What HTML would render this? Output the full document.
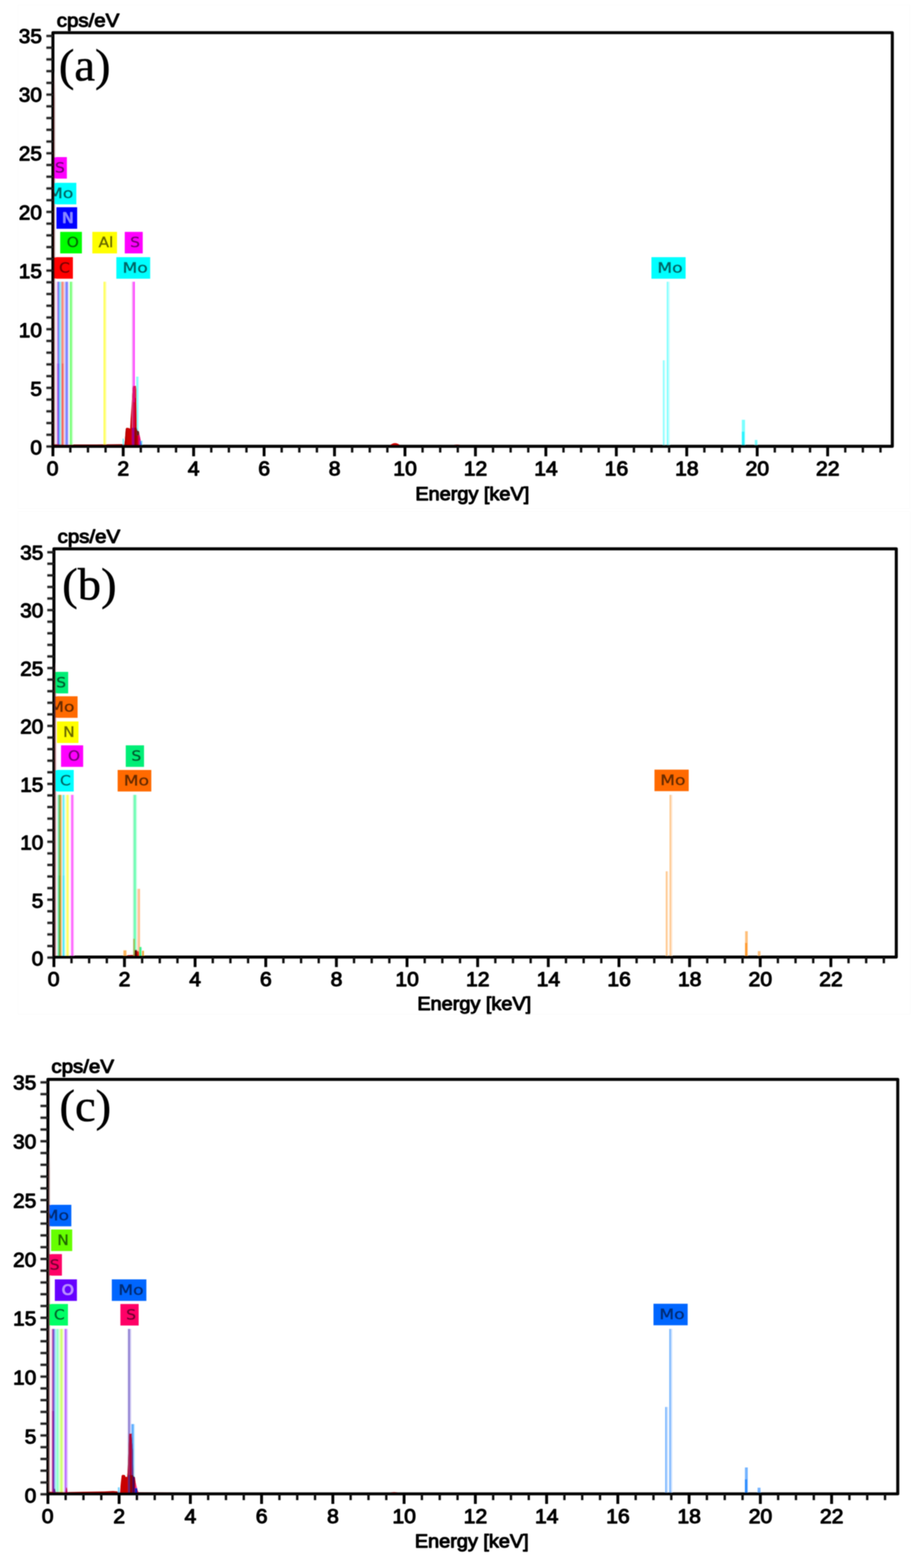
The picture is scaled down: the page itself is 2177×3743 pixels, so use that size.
<!DOCTYPE html>
<html lang="en"><head><meta charset="utf-8"><title>EDS spectra (a) (b) (c)</title>
<style>html,body{margin:0;padding:0;background:#fff;}body{width:2177px;height:3743px;}svg{display:block;}text{white-space:pre;}</style>
</head><body>
<svg width="2177" height="3743" viewBox="0 0 2177 3743" role="img" aria-label="EDS spectra of three samples">
<defs><filter id="soft" x="0" y="0" width="2177" height="3743" filterUnits="userSpaceOnUse"><feGaussianBlur stdDeviation="0.9"/></filter></defs>
<rect x="0" y="0" width="2177" height="3743" fill="#fff"/>
<g filter="url(#soft)">
<g id="panel-a">
<rect x="43" y="12" width="2129" height="1202" fill="none" stroke="#fcfcfc" stroke-width="2.4"/>
<clipPath id="clip-a"><rect x="126.3" y="78" width="2003.7" height="991.3"/></clipPath>
<g clip-path="url(#clip-a)">
<linearGradient id="zg-a" gradientUnits="userSpaceOnUse" x1="0" y1="169.9" x2="0" y2="239.9"><stop offset="0" stop-color="#3c0a0a" stop-opacity="0"/><stop offset="1" stop-color="#3c0a0a" stop-opacity="1"/></linearGradient>
<linearGradient id="zp-a" gradientUnits="userSpaceOnUse" x1="0" y1="169.9" x2="0" y2="239.9"><stop offset="0" stop-color="#eadada" stop-opacity="0"/><stop offset="1" stop-color="#eadada" stop-opacity="1"/></linearGradient>
<rect x="130.3" y="81.6" width="2.4" height="980.1" fill="url(#zp-a)"/>
<rect x="130" y="672.5" width="2.7" height="392.8" fill="#ecdcdc"/>
<rect x="134.9" y="672.5" width="2.5" height="392.8" fill="#f3b4f3"/>
<rect x="137.4" y="672.5" width="2.7" height="392.8" fill="#8a6ee6"/>
<rect x="140.1" y="672.5" width="2" height="392.8" fill="#549cff"/>
<rect x="142.1" y="672.5" width="2.9" height="392.8" fill="#82f0ff"/>
<rect x="145" y="672.5" width="2" height="392.8" fill="#bccac4"/>
<rect x="147" y="672.5" width="4.9" height="392.8" fill="#f98c7c"/>
<rect x="151.9" y="672.5" width="2.5" height="392.8" fill="#f9d2d2"/>
<rect x="154.4" y="672.5" width="2.6" height="392.8" fill="#b9b9ff"/>
<rect x="157" y="672.5" width="5" height="392.8" fill="#7a84ff"/>
<rect x="162" y="672.5" width="2" height="392.8" fill="#e2d2ff"/>
<rect x="164" y="672.5" width="2.9" height="392.8" fill="#e9ffe9"/>
<rect x="166.9" y="672.5" width="4.5" height="392.8" fill="#70ff70"/>
<rect x="171.4" y="672.5" width="2.6" height="392.8" fill="#c2ffc2"/>
<rect x="134.9" y="867.7" width="2.5" height="197.6" fill="#e898e8"/>
<rect x="137.4" y="867.7" width="2.7" height="197.6" fill="#8650e0"/>
<rect x="140.1" y="867.7" width="2" height="197.6" fill="#5080ff"/>
<rect x="147" y="867.7" width="4.9" height="197.6" fill="#f36a5e"/>
<rect x="1591.6" y="672.5" width="3.5" height="392.8" fill="#7cffff"/>
<rect x="1595.1" y="672.5" width="3.5" height="392.8" fill="#c4ffff"/>
<rect x="1582.4" y="860.1" width="3" height="205.2" fill="#7cffff"/>
<rect x="1585.4" y="860.1" width="2.5" height="205.2" fill="#c4ffff"/>
<rect x="1770.8" y="1002.1" width="7.6" height="63.2" fill="#7cffff"/>
<rect x="1770.8" y="1030.3" width="6.1" height="35" fill="#2cf4ff"/>
<rect x="1801.8" y="1050.2" width="6.2" height="15.1" fill="#7cffff"/>
<rect x="247.2" y="672.5" width="3.4" height="392.8" fill="#ffff4a"/>
<rect x="250.6" y="672.5" width="3" height="392.8" fill="#ffff90"/>
<rect x="315" y="672.5" width="2.7" height="392.8" fill="#f2a2f2"/>
<rect x="317.7" y="672.5" width="4.3" height="392.8" fill="#ff4cff"/>
<rect x="324.8" y="899" width="2" height="166.3" fill="#a4f2e4"/>
<rect x="326.8" y="899" width="3.3" height="166.3" fill="#7cffff"/>
<rect x="330.1" y="899" width="1.7" height="166.3" fill="#d2ffff"/>
<path d="M130 1065.3 L130 1060.3 L150 1061.1 L230 1060.9 L296 1060.3 L296 1065.3 Z" fill="#a80000"/>
<path d="M338 1065.3 L338 1061.7 L420 1062.3 L700 1062.8 L820 1063.7 L820 1065.3 Z" fill="#7a0000"/>
<clipPath id="pk-a"><path d="M295 1065.3 L296.6 1060.9 L298.2 1050 L300.2 1024 L302 1021.2 L307 1021.6 L310.6 1023.6 L311.8 1000 L313.6 975 L315.4 946 L316.6 926 L317.4 921.2 L324.8 921 L325.6 930 L326.2 975 L326.8 1022 L328 1027.5 L331.6 1029.5 L333 1038 L335.6 1050 L338.4 1061.9 L339.5 1065.3 Z"/></clipPath>
<path d="M295 1065.3 L296.6 1060.9 L298.2 1050 L300.2 1024 L302 1021.2 L307 1021.6 L310.6 1023.6 L311.8 1000 L313.6 975 L315.4 946 L316.6 926 L317.4 921.2 L324.8 921 L325.6 930 L326.2 975 L326.8 1022 L328 1027.5 L331.6 1029.5 L333 1038 L335.6 1050 L338.4 1061.9 L339.5 1065.3 Z" fill="#cc0000"/>
<g clip-path="url(#pk-a)">
<rect x="296" y="1015" width="7" height="50.3" fill="#b40000"/>
<rect x="315" y="915" width="2.6" height="106" fill="#d8467e"/>
<rect x="317.6" y="915" width="4.4" height="45" fill="#e4007e"/>
<rect x="317.6" y="960" width="4.4" height="61" fill="#d4004e"/>
<rect x="322" y="915" width="3" height="35" fill="#d42a3a"/>
<rect x="315.2" y="1021" width="5" height="44.3" fill="#a0008c"/>
<rect x="320.2" y="1021" width="6.4" height="44.3" fill="#9a0000"/>
<rect x="326.6" y="1020" width="5.2" height="20" fill="#5e2222"/>
<rect x="330.4" y="1038" width="5" height="27.3" fill="#e2007c"/>
<rect x="333.8" y="1051.6" width="3.6" height="13.7" fill="#3254f4"/>
</g>
<rect x="337.2" y="1052" width="2.6" height="13.3" fill="#4ad8f4" opacity="0.8"/>
<rect x="292.8" y="1047" width="3" height="18.3" fill="#58ecf4" opacity="0.85"/>
<path d="M930 1063.5 Q943 1051.9 956 1063.5 Z" fill="#d80000"/>
<path d="M1078 1063.7 Q1091 1058.9 1104 1063.7 Z" fill="#a00000"/>
<rect x="115.7" y="375" width="43.9" height="51.4" fill="#ff00ff"/>
<text x="0" y="0" font-family="'DejaVu Sans', 'Liberation Sans', sans-serif" font-size="34" font-weight="normal" text-anchor="middle" fill="#7c007c" transform="translate(143 411.8) scale(1.080 1)" stroke="#7c007c" stroke-width="1.2" stroke-linejoin="round">S</text>
<rect x="103.7" y="436.4" width="78.5" height="51.4" fill="#00ffff"/>
<text x="0" y="0" font-family="'DejaVu Sans', 'Liberation Sans', sans-serif" font-size="34" font-weight="normal" text-anchor="middle" fill="#006b6b" transform="translate(144.9 473.2) scale(1.200 1)" stroke="#006b6b" stroke-width="1.2" stroke-linejoin="round">Mo</text>
<rect x="134.5" y="494.7" width="49.7" height="51.4" fill="#0000ff"/>
<text x="0" y="0" font-family="'DejaVu Sans', 'Liberation Sans', sans-serif" font-size="34" font-weight="normal" text-anchor="middle" fill="#8a8aff" transform="translate(161.9 531.5) scale(1.080 1)" stroke="#8a8aff" stroke-width="1.2" stroke-linejoin="round">N</text>
<rect x="143.7" y="553.5" width="51.8" height="51.4" fill="#00ff00"/>
<text x="0" y="0" font-family="'DejaVu Sans', 'Liberation Sans', sans-serif" font-size="34" font-weight="normal" text-anchor="middle" fill="#007000" transform="translate(173.6 590.3) scale(1.080 1)" stroke="#007000" stroke-width="1.2" stroke-linejoin="round">O</text>
<rect x="220.4" y="553.5" width="58.9" height="51.4" fill="#ffff00"/>
<text x="0" y="0" font-family="'DejaVu Sans', 'Liberation Sans', sans-serif" font-size="34" font-weight="normal" text-anchor="middle" fill="#6b6b00" transform="translate(252.9 590.3) scale(1.080 1)" stroke="#6b6b00" stroke-width="1.2" stroke-linejoin="round">Al</text>
<rect x="297.8" y="553.5" width="42.9" height="51.4" fill="#ff00ff"/>
<text x="0" y="0" font-family="'DejaVu Sans', 'Liberation Sans', sans-serif" font-size="34" font-weight="normal" text-anchor="middle" fill="#7c007c" transform="translate(322.5 590.3) scale(1.080 1)" stroke="#7c007c" stroke-width="1.2" stroke-linejoin="round">S</text>
<rect x="125.7" y="613.9" width="48.3" height="51.4" fill="#ff0000"/>
<text x="0" y="0" font-family="'DejaVu Sans', 'Liberation Sans', sans-serif" font-size="34" font-weight="normal" text-anchor="middle" fill="#7c0000" transform="translate(153.7 650.7) scale(1.080 1)" stroke="#7c0000" stroke-width="1.2" stroke-linejoin="round">C</text>
<rect x="277.7" y="613.9" width="80.8" height="51.4" fill="#00ffff"/>
<text x="0" y="0" font-family="'DejaVu Sans', 'Liberation Sans', sans-serif" font-size="34" font-weight="normal" text-anchor="middle" fill="#006b6b" transform="translate(322.6 650.7) scale(1.200 1)" stroke="#006b6b" stroke-width="1.2" stroke-linejoin="round">Mo</text>
<rect x="1555" y="613.9" width="81.6" height="51.4" fill="#00ffff"/>
<text x="0" y="0" font-family="'DejaVu Sans', 'Liberation Sans', sans-serif" font-size="34" font-weight="normal" text-anchor="middle" fill="#006b6b" transform="translate(1599.4 650.7) scale(1.200 1)" stroke="#006b6b" stroke-width="1.2" stroke-linejoin="round">Mo</text>
</g>
<rect x="126.3" y="78" width="2003.7" height="987.3" fill="none" stroke="#000" stroke-width="7.2" stroke-linejoin="round"/>
<rect x="127.5" y="81.6" width="2.8" height="980.1" fill="url(#zg-a)"/>
<path d="M110.7 1065.9H126.3M110.7 1037.9H126.3M110.7 1009.9H126.3M110.7 981.9H126.3M110.7 953.9H126.3M110.7 925.9H126.3M110.7 897.9H126.3M110.7 869.9H126.3M110.7 841.9H126.3M110.7 813.9H126.3M110.7 785.9H126.3M110.7 757.9H126.3M110.7 729.9H126.3M110.7 701.9H126.3M110.7 673.9H126.3M110.7 645.9H126.3M110.7 617.9H126.3M110.7 589.9H126.3M110.7 561.9H126.3M110.7 533.9H126.3M110.7 505.9H126.3M110.7 477.9H126.3M110.7 449.9H126.3M110.7 421.9H126.3M110.7 393.9H126.3M110.7 365.9H126.3M110.7 337.9H126.3M110.7 309.9H126.3M110.7 281.9H126.3M110.7 253.9H126.3M110.7 225.9H126.3M110.7 197.9H126.3M110.7 169.9H126.3M110.7 141.9H126.3M110.7 113.9H126.3M110.7 85.9H126.3" stroke="#000" stroke-opacity="0.3" stroke-width="7.6" fill="none"/>
<path d="M110.7 1065.9H126.3M110.7 1037.9H126.3M110.7 1009.9H126.3M110.7 981.9H126.3M110.7 953.9H126.3M110.7 925.9H126.3M110.7 897.9H126.3M110.7 869.9H126.3M110.7 841.9H126.3M110.7 813.9H126.3M110.7 785.9H126.3M110.7 757.9H126.3M110.7 729.9H126.3M110.7 701.9H126.3M110.7 673.9H126.3M110.7 645.9H126.3M110.7 617.9H126.3M110.7 589.9H126.3M110.7 561.9H126.3M110.7 533.9H126.3M110.7 505.9H126.3M110.7 477.9H126.3M110.7 449.9H126.3M110.7 421.9H126.3M110.7 393.9H126.3M110.7 365.9H126.3M110.7 337.9H126.3M110.7 309.9H126.3M110.7 281.9H126.3M110.7 253.9H126.3M110.7 225.9H126.3M110.7 197.9H126.3M110.7 169.9H126.3M110.7 141.9H126.3M110.7 113.9H126.3M110.7 85.9H126.3" stroke="#1c1c1c" stroke-width="4.4" fill="none"/>
<path d="M167.9 1065.3V1080.3M210 1065.3V1080.3M252 1065.3V1080.3M336.1 1065.3V1080.3M378.1 1065.3V1080.3M420.2 1065.3V1080.3M504.3 1065.3V1080.3M546.3 1065.3V1080.3M588.3 1065.3V1080.3M672.4 1065.3V1080.3M714.5 1065.3V1080.3M756.5 1065.3V1080.3M840.6 1065.3V1080.3M882.6 1065.3V1080.3M924.7 1065.3V1080.3M1008.7 1065.3V1080.3M1050.8 1065.3V1080.3M1092.8 1065.3V1080.3M1176.9 1065.3V1080.3M1218.9 1065.3V1080.3M1261 1065.3V1080.3M1345.1 1065.3V1080.3M1387.1 1065.3V1080.3M1429.1 1065.3V1080.3M1513.2 1065.3V1080.3M1555.3 1065.3V1080.3M1597.3 1065.3V1080.3M1681.4 1065.3V1080.3M1723.4 1065.3V1080.3M1765.5 1065.3V1080.3M1849.5 1065.3V1080.3M1891.6 1065.3V1080.3M1933.6 1065.3V1080.3M2017.7 1065.3V1080.3M2059.7 1065.3V1080.3M2101.8 1065.3V1080.3" stroke="#111" stroke-width="5.6" fill="none"/>
<path d="M126.3 1065.3V1089.3M294.1 1065.3V1089.3M462.2 1065.3V1089.3M630.4 1065.3V1089.3M798.5 1065.3V1089.3M966.7 1065.3V1089.3M1134.9 1065.3V1089.3M1303 1065.3V1089.3M1471.2 1065.3V1089.3M1639.3 1065.3V1089.3M1807.5 1065.3V1089.3M1975.7 1065.3V1089.3" stroke="#000" stroke-width="6.8" fill="none"/>
<text x="0" y="0" font-family="'Liberation Sans', Arial, sans-serif" font-size="47.6" font-weight="normal" text-anchor="end" fill="#000" transform="translate(99.9 1085.2) scale(1.040 1)" stroke="#000" stroke-width="2.3" stroke-linejoin="round">0</text>
<text x="0" y="0" font-family="'Liberation Sans', Arial, sans-serif" font-size="47.6" font-weight="normal" text-anchor="end" fill="#000" transform="translate(99.9 944.8) scale(1.040 1)" stroke="#000" stroke-width="2.3" stroke-linejoin="round">5</text>
<text x="0" y="0" font-family="'Liberation Sans', Arial, sans-serif" font-size="47.6" font-weight="normal" text-anchor="end" fill="#000" transform="translate(99.9 804.5) scale(1.040 1)" stroke="#000" stroke-width="2.3" stroke-linejoin="round">10</text>
<text x="0" y="0" font-family="'Liberation Sans', Arial, sans-serif" font-size="47.6" font-weight="normal" text-anchor="end" fill="#000" transform="translate(99.9 664.1) scale(1.040 1)" stroke="#000" stroke-width="2.3" stroke-linejoin="round">15</text>
<text x="0" y="0" font-family="'Liberation Sans', Arial, sans-serif" font-size="47.6" font-weight="normal" text-anchor="end" fill="#000" transform="translate(99.9 523.8) scale(1.040 1)" stroke="#000" stroke-width="2.3" stroke-linejoin="round">20</text>
<text x="0" y="0" font-family="'Liberation Sans', Arial, sans-serif" font-size="47.6" font-weight="normal" text-anchor="end" fill="#000" transform="translate(99.9 383.4) scale(1.040 1)" stroke="#000" stroke-width="2.3" stroke-linejoin="round">25</text>
<text x="0" y="0" font-family="'Liberation Sans', Arial, sans-serif" font-size="47.6" font-weight="normal" text-anchor="end" fill="#000" transform="translate(99.9 243.1) scale(1.040 1)" stroke="#000" stroke-width="2.3" stroke-linejoin="round">30</text>
<text x="0" y="0" font-family="'Liberation Sans', Arial, sans-serif" font-size="47.6" font-weight="normal" text-anchor="end" fill="#000" transform="translate(99.9 102.7) scale(1.040 1)" stroke="#000" stroke-width="2.3" stroke-linejoin="round">35</text>
<text x="0" y="0" font-family="'Liberation Sans', Arial, sans-serif" font-size="47.6" font-weight="normal" text-anchor="middle" fill="#000" transform="translate(125.5 1135.3) scale(1.060 1)" stroke="#000" stroke-width="2.3" stroke-linejoin="round">0</text>
<text x="0" y="0" font-family="'Liberation Sans', Arial, sans-serif" font-size="47.6" font-weight="normal" text-anchor="middle" fill="#000" transform="translate(294.3 1135.3) scale(1.060 1)" stroke="#000" stroke-width="2.3" stroke-linejoin="round">2</text>
<text x="0" y="0" font-family="'Liberation Sans', Arial, sans-serif" font-size="47.6" font-weight="normal" text-anchor="middle" fill="#000" transform="translate(462.4 1135.3) scale(1.060 1)" stroke="#000" stroke-width="2.3" stroke-linejoin="round">4</text>
<text x="0" y="0" font-family="'Liberation Sans', Arial, sans-serif" font-size="47.6" font-weight="normal" text-anchor="middle" fill="#000" transform="translate(630.6 1135.3) scale(1.060 1)" stroke="#000" stroke-width="2.3" stroke-linejoin="round">6</text>
<text x="0" y="0" font-family="'Liberation Sans', Arial, sans-serif" font-size="47.6" font-weight="normal" text-anchor="middle" fill="#000" transform="translate(798.7 1135.3) scale(1.060 1)" stroke="#000" stroke-width="2.3" stroke-linejoin="round">8</text>
<text x="0" y="0" font-family="'Liberation Sans', Arial, sans-serif" font-size="47.6" font-weight="normal" text-anchor="middle" fill="#000" transform="translate(966.9 1135.3) scale(1.060 1)" stroke="#000" stroke-width="2.3" stroke-linejoin="round">10</text>
<text x="0" y="0" font-family="'Liberation Sans', Arial, sans-serif" font-size="47.6" font-weight="normal" text-anchor="middle" fill="#000" transform="translate(1135.1 1135.3) scale(1.060 1)" stroke="#000" stroke-width="2.3" stroke-linejoin="round">12</text>
<text x="0" y="0" font-family="'Liberation Sans', Arial, sans-serif" font-size="47.6" font-weight="normal" text-anchor="middle" fill="#000" transform="translate(1303.2 1135.3) scale(1.060 1)" stroke="#000" stroke-width="2.3" stroke-linejoin="round">14</text>
<text x="0" y="0" font-family="'Liberation Sans', Arial, sans-serif" font-size="47.6" font-weight="normal" text-anchor="middle" fill="#000" transform="translate(1471.4 1135.3) scale(1.060 1)" stroke="#000" stroke-width="2.3" stroke-linejoin="round">16</text>
<text x="0" y="0" font-family="'Liberation Sans', Arial, sans-serif" font-size="47.6" font-weight="normal" text-anchor="middle" fill="#000" transform="translate(1639.5 1135.3) scale(1.060 1)" stroke="#000" stroke-width="2.3" stroke-linejoin="round">18</text>
<text x="0" y="0" font-family="'Liberation Sans', Arial, sans-serif" font-size="47.6" font-weight="normal" text-anchor="middle" fill="#000" transform="translate(1807.7 1135.3) scale(1.060 1)" stroke="#000" stroke-width="2.3" stroke-linejoin="round">20</text>
<text x="0" y="0" font-family="'Liberation Sans', Arial, sans-serif" font-size="47.6" font-weight="normal" text-anchor="middle" fill="#000" transform="translate(1975.9 1135.3) scale(1.060 1)" stroke="#000" stroke-width="2.3" stroke-linejoin="round">22</text>
<text x="0" y="0" font-family="'Liberation Sans', Arial, sans-serif" font-size="44.4" font-weight="normal" text-anchor="middle" fill="#000" transform="translate(1127.4 1194.1) scale(1.070 1)" stroke="#000" stroke-width="2.3" stroke-linejoin="round">Energy [keV]</text>
<text x="0" y="0" font-family="'Liberation Sans', Arial, sans-serif" font-size="44.4" font-weight="normal" text-anchor="start" fill="#000" transform="translate(135.5 63.5) scale(1.100 1)" stroke="#000" stroke-width="2.3" stroke-linejoin="round">cps/eV</text>
<text x="0" y="0" font-family="'Liberation Serif', 'Times New Roman', serif" font-size="108" font-weight="normal" text-anchor="start" fill="#000" transform="translate(140.4 191.6) scale(1.030 1)" stroke="#000" stroke-width="1.1" stroke-linejoin="round">(a)</text>
</g>
<g id="panel-b">
<rect x="43" y="1221" width="2130" height="1200" fill="none" stroke="#fcfcfc" stroke-width="2.4"/>
<clipPath id="clip-b"><rect x="128.7" y="1310.2" width="2010.8" height="978.4"/></clipPath>
<g clip-path="url(#clip-b)">
<linearGradient id="zg-b" gradientUnits="userSpaceOnUse" x1="0" y1="1580.8" x2="0" y2="1636.1"><stop offset="0" stop-color="#5a3030" stop-opacity="0"/><stop offset="1" stop-color="#5a3030" stop-opacity="1"/></linearGradient>
<linearGradient id="zp-b" gradientUnits="userSpaceOnUse" x1="0" y1="1580.8" x2="0" y2="1636.1"><stop offset="0" stop-color="#f8d2da" stop-opacity="0"/><stop offset="1" stop-color="#f8d2da" stop-opacity="1"/></linearGradient>
<rect x="132.7" y="1313.8" width="2.4" height="967.2" fill="url(#zp-b)"/>
<rect x="132.5" y="1897.4" width="2.4" height="387.2" fill="#f9d4dc"/>
<rect x="137.2" y="1897.4" width="2.9" height="387.2" fill="#92f2c2"/>
<rect x="140.1" y="1897.4" width="2.2" height="387.2" fill="#54ba54"/>
<rect x="142.3" y="1897.4" width="2.7" height="387.2" fill="#a2a424"/>
<rect x="145" y="1897.4" width="2.2" height="387.2" fill="#f8b862"/>
<rect x="147.2" y="1897.4" width="2.1" height="387.2" fill="#f0e2d2"/>
<rect x="149.3" y="1897.4" width="4.9" height="387.2" fill="#68f4fb"/>
<rect x="154.2" y="1897.4" width="2.6" height="387.2" fill="#dcffff"/>
<rect x="156.8" y="1897.4" width="2.5" height="387.2" fill="#ffffa4"/>
<rect x="159.3" y="1897.4" width="4.7" height="387.2" fill="#ffff5c"/>
<rect x="164" y="1897.4" width="2.7" height="387.2" fill="#ffffe2"/>
<rect x="168.9" y="1897.4" width="2.3" height="387.2" fill="#ff94ff"/>
<rect x="171.2" y="1897.4" width="2.8" height="387.2" fill="#ff50ff"/>
<rect x="174" y="1897.4" width="2.3" height="387.2" fill="#ffa4ff"/>
<rect x="137.2" y="2090.1" width="2.9" height="194.5" fill="#8af0bc"/>
<rect x="140.1" y="2090.1" width="2.2" height="194.5" fill="#48b648"/>
<rect x="142.3" y="2090.1" width="2.7" height="194.5" fill="#96a020"/>
<rect x="149.3" y="2090.1" width="4.9" height="194.5" fill="#52eefa"/>
<rect x="1598.4" y="1897.4" width="3.1" height="387.2" fill="#ffc07c"/>
<rect x="1601.5" y="1897.4" width="3.1" height="387.2" fill="#ffe2c4"/>
<rect x="1589.4" y="2079.9" width="3.1" height="204.7" fill="#ffc07c"/>
<rect x="1592.5" y="2079.9" width="2.5" height="204.7" fill="#ffe2c4"/>
<rect x="1778.6" y="2222.9" width="6.4" height="61.7" fill="#ffc07c"/>
<rect x="1778.6" y="2250.8" width="4.9" height="33.8" fill="#ff9a2c"/>
<rect x="1808.9" y="2270.4" width="6.5" height="14.2" fill="#ffc07c"/>
<rect x="317.5" y="1897.4" width="2.5" height="387.2" fill="#aef2d0"/>
<rect x="320" y="1897.4" width="4.6" height="387.2" fill="#66ffb2"/>
<rect x="324.6" y="1897.4" width="2.3" height="387.2" fill="#c2ffe2"/>
<rect x="327.3" y="2121.7" width="2.5" height="162.9" fill="#ffd2c2"/>
<rect x="329.8" y="2121.7" width="4.5" height="162.9" fill="#ffc08e"/>
<path d="M304 2284.6 L304 2280.2 L319 2279.6 L319 2284.6 Z" fill="#c01000"/>
<path d="M320.5 2284.6 L321.2 2269 L323 2267.4 L326.8 2267.6 L327.6 2284.6 Z" fill="#520400"/>
<path d="M327.2 2284.6 L327.4 2270 L329 2269.6 L331.4 2272 L332.6 2284.6 Z" fill="#e40000"/>
<path d="M340 2284.6 L340 2281.8 L520 2283 L520 2284.6 Z" fill="#300000" opacity="0.5"/>
<rect x="317.9" y="2240.8" width="4.1" height="43.8" fill="#b09000" opacity="0.55"/>
<rect x="332.4" y="2260.4" width="5.2" height="24.2" fill="#20f070" opacity="0.85"/>
<rect x="337.6" y="2262" width="1.4" height="22.6" fill="#60f0ff" opacity="0.5"/>
<rect x="338.8" y="2269.6" width="4.8" height="15" fill="#f0a020" opacity="0.9"/>
<rect x="294.6" y="2268.6" width="7.2" height="16" fill="#ffa840" opacity="0.85"/>
<rect x="117.7" y="1603.8" width="45" height="51.4" fill="#00ee76"/>
<text x="0" y="0" font-family="'DejaVu Sans', 'Liberation Sans', sans-serif" font-size="34" font-weight="normal" text-anchor="middle" fill="#006030" transform="translate(146 1640.6) scale(1.080 1)" stroke="#006030" stroke-width="1.2" stroke-linejoin="round">S</text>
<rect x="103.7" y="1662.1" width="81.5" height="51.4" fill="#ff6a00"/>
<text x="0" y="0" font-family="'DejaVu Sans', 'Liberation Sans', sans-serif" font-size="34" font-weight="normal" text-anchor="middle" fill="#6b2d00" transform="translate(147.6 1698.9) scale(1.200 1)" stroke="#6b2d00" stroke-width="1.2" stroke-linejoin="round">Mo</text>
<rect x="135.5" y="1722.2" width="51.8" height="51.4" fill="#ffff00"/>
<text x="0" y="0" font-family="'DejaVu Sans', 'Liberation Sans', sans-serif" font-size="34" font-weight="normal" text-anchor="middle" fill="#6b6b00" transform="translate(164.5 1759) scale(1.080 1)" stroke="#6b6b00" stroke-width="1.2" stroke-linejoin="round">N</text>
<rect x="145.7" y="1779.2" width="52.8" height="51.4" fill="#ff00ff"/>
<text x="0" y="0" font-family="'DejaVu Sans', 'Liberation Sans', sans-serif" font-size="34" font-weight="normal" text-anchor="middle" fill="#7c007c" transform="translate(176.6 1816) scale(1.080 1)" stroke="#7c007c" stroke-width="1.2" stroke-linejoin="round">O</text>
<rect x="300.2" y="1779.2" width="43.6" height="51.4" fill="#00ee76"/>
<text x="0" y="0" font-family="'DejaVu Sans', 'Liberation Sans', sans-serif" font-size="34" font-weight="normal" text-anchor="middle" fill="#006030" transform="translate(325.5 1816) scale(1.080 1)" stroke="#006030" stroke-width="1.2" stroke-linejoin="round">S</text>
<rect x="125.7" y="1838" width="50.3" height="51.4" fill="#00ffff"/>
<text x="0" y="0" font-family="'DejaVu Sans', 'Liberation Sans', sans-serif" font-size="34" font-weight="normal" text-anchor="middle" fill="#006b6b" transform="translate(156 1874.8) scale(1.080 1)" stroke="#006b6b" stroke-width="1.2" stroke-linejoin="round">C</text>
<rect x="280.8" y="1838" width="80.4" height="51.4" fill="#ff6a00"/>
<text x="0" y="0" font-family="'DejaVu Sans', 'Liberation Sans', sans-serif" font-size="34" font-weight="normal" text-anchor="middle" fill="#6b2d00" transform="translate(325.6 1874.8) scale(1.200 1)" stroke="#6b2d00" stroke-width="1.2" stroke-linejoin="round">Mo</text>
<rect x="1562.3" y="1837.2" width="81.7" height="51.4" fill="#ff6a00"/>
<text x="0" y="0" font-family="'DejaVu Sans', 'Liberation Sans', sans-serif" font-size="34" font-weight="normal" text-anchor="middle" fill="#6b2d00" transform="translate(1606.2 1874) scale(1.200 1)" stroke="#6b2d00" stroke-width="1.2" stroke-linejoin="round">Mo</text>
</g>
<rect x="128.7" y="1310.2" width="2010.8" height="974.4" fill="none" stroke="#000" stroke-width="7.2" stroke-linejoin="round"/>
<rect x="129.9" y="1313.8" width="2.8" height="967.2" fill="url(#zg-b)"/>
<path d="M112.9 2285.9H128.7M112.9 2258.2H128.7M112.9 2230.6H128.7M112.9 2203H128.7M112.9 2175.3H128.7M112.9 2147.7H128.7M112.9 2120H128.7M112.9 2092.3H128.7M112.9 2064.7H128.7M112.9 2037.1H128.7M112.9 2009.4H128.7M112.9 1981.8H128.7M112.9 1954.1H128.7M112.9 1926.5H128.7M112.9 1898.8H128.7M112.9 1871.2H128.7M112.9 1843.5H128.7M112.9 1815.9H128.7M112.9 1788.2H128.7M112.9 1760.6H128.7M112.9 1732.9H128.7M112.9 1705.2H128.7M112.9 1677.6H128.7M112.9 1650H128.7M112.9 1622.3H128.7M112.9 1594.7H128.7M112.9 1567H128.7M112.9 1539.4H128.7M112.9 1511.7H128.7M112.9 1484.1H128.7M112.9 1456.4H128.7M112.9 1428.8H128.7M112.9 1401.1H128.7M112.9 1373.5H128.7M112.9 1345.8H128.7M112.9 1318.2H128.7" stroke="#000" stroke-opacity="0.3" stroke-width="7.6" fill="none"/>
<path d="M112.9 2285.9H128.7M112.9 2258.2H128.7M112.9 2230.6H128.7M112.9 2203H128.7M112.9 2175.3H128.7M112.9 2147.7H128.7M112.9 2120H128.7M112.9 2092.3H128.7M112.9 2064.7H128.7M112.9 2037.1H128.7M112.9 2009.4H128.7M112.9 1981.8H128.7M112.9 1954.1H128.7M112.9 1926.5H128.7M112.9 1898.8H128.7M112.9 1871.2H128.7M112.9 1843.5H128.7M112.9 1815.9H128.7M112.9 1788.2H128.7M112.9 1760.6H128.7M112.9 1732.9H128.7M112.9 1705.2H128.7M112.9 1677.6H128.7M112.9 1650H128.7M112.9 1622.3H128.7M112.9 1594.7H128.7M112.9 1567H128.7M112.9 1539.4H128.7M112.9 1511.7H128.7M112.9 1484.1H128.7M112.9 1456.4H128.7M112.9 1428.8H128.7M112.9 1401.1H128.7M112.9 1373.5H128.7M112.9 1345.8H128.7M112.9 1318.2H128.7" stroke="#1c1c1c" stroke-width="4.4" fill="none"/>
<path d="M170.7 2284.6V2299.6M212.8 2284.6V2299.6M255 2284.6V2299.6M339.3 2284.6V2299.6M381.4 2284.6V2299.6M423.6 2284.6V2299.6M507.9 2284.6V2299.6M550 2284.6V2299.6M592.2 2284.6V2299.6M676.5 2284.6V2299.6M718.7 2284.6V2299.6M760.8 2284.6V2299.6M845.1 2284.6V2299.6M887.3 2284.6V2299.6M929.4 2284.6V2299.6M1013.8 2284.6V2299.6M1055.9 2284.6V2299.6M1098.1 2284.6V2299.6M1182.4 2284.6V2299.6M1224.5 2284.6V2299.6M1266.7 2284.6V2299.6M1351 2284.6V2299.6M1393.2 2284.6V2299.6M1435.3 2284.6V2299.6M1519.6 2284.6V2299.6M1561.8 2284.6V2299.6M1603.9 2284.6V2299.6M1688.2 2284.6V2299.6M1730.4 2284.6V2299.6M1772.5 2284.6V2299.6M1856.9 2284.6V2299.6M1899 2284.6V2299.6M1941.2 2284.6V2299.6M2025.5 2284.6V2299.6M2067.6 2284.6V2299.6M2109.8 2284.6V2299.6" stroke="#111" stroke-width="5.6" fill="none"/>
<path d="M128.7 2284.6V2308.6M297.1 2284.6V2308.6M465.7 2284.6V2308.6M634.4 2284.6V2308.6M803 2284.6V2308.6M971.6 2284.6V2308.6M1140.2 2284.6V2308.6M1308.8 2284.6V2308.6M1477.5 2284.6V2308.6M1646.1 2284.6V2308.6M1814.7 2284.6V2308.6M1983.3 2284.6V2308.6" stroke="#000" stroke-width="6.8" fill="none"/>
<text x="0" y="0" font-family="'Liberation Sans', Arial, sans-serif" font-size="47.6" font-weight="normal" text-anchor="end" fill="#000" transform="translate(103.3 2305.3) scale(1.040 1)" stroke="#000" stroke-width="2.3" stroke-linejoin="round">0</text>
<text x="0" y="0" font-family="'Liberation Sans', Arial, sans-serif" font-size="47.6" font-weight="normal" text-anchor="end" fill="#000" transform="translate(103.3 2166.8) scale(1.040 1)" stroke="#000" stroke-width="2.3" stroke-linejoin="round">5</text>
<text x="0" y="0" font-family="'Liberation Sans', Arial, sans-serif" font-size="47.6" font-weight="normal" text-anchor="end" fill="#000" transform="translate(103.3 2028.2) scale(1.040 1)" stroke="#000" stroke-width="2.3" stroke-linejoin="round">10</text>
<text x="0" y="0" font-family="'Liberation Sans', Arial, sans-serif" font-size="47.6" font-weight="normal" text-anchor="end" fill="#000" transform="translate(103.3 1889.7) scale(1.040 1)" stroke="#000" stroke-width="2.3" stroke-linejoin="round">15</text>
<text x="0" y="0" font-family="'Liberation Sans', Arial, sans-serif" font-size="47.6" font-weight="normal" text-anchor="end" fill="#000" transform="translate(103.3 1751.1) scale(1.040 1)" stroke="#000" stroke-width="2.3" stroke-linejoin="round">20</text>
<text x="0" y="0" font-family="'Liberation Sans', Arial, sans-serif" font-size="47.6" font-weight="normal" text-anchor="end" fill="#000" transform="translate(103.3 1612.6) scale(1.040 1)" stroke="#000" stroke-width="2.3" stroke-linejoin="round">25</text>
<text x="0" y="0" font-family="'Liberation Sans', Arial, sans-serif" font-size="47.6" font-weight="normal" text-anchor="end" fill="#000" transform="translate(103.3 1474) scale(1.040 1)" stroke="#000" stroke-width="2.3" stroke-linejoin="round">30</text>
<text x="0" y="0" font-family="'Liberation Sans', Arial, sans-serif" font-size="47.6" font-weight="normal" text-anchor="end" fill="#000" transform="translate(103.3 1335.5) scale(1.040 1)" stroke="#000" stroke-width="2.3" stroke-linejoin="round">35</text>
<text x="0" y="0" font-family="'Liberation Sans', Arial, sans-serif" font-size="47.6" font-weight="normal" text-anchor="middle" fill="#000" transform="translate(128.1 2353.7) scale(1.060 1)" stroke="#000" stroke-width="2.3" stroke-linejoin="round">0</text>
<text x="0" y="0" font-family="'Liberation Sans', Arial, sans-serif" font-size="47.6" font-weight="normal" text-anchor="middle" fill="#000" transform="translate(297.3 2353.7) scale(1.060 1)" stroke="#000" stroke-width="2.3" stroke-linejoin="round">2</text>
<text x="0" y="0" font-family="'Liberation Sans', Arial, sans-serif" font-size="47.6" font-weight="normal" text-anchor="middle" fill="#000" transform="translate(465.9 2353.7) scale(1.060 1)" stroke="#000" stroke-width="2.3" stroke-linejoin="round">4</text>
<text x="0" y="0" font-family="'Liberation Sans', Arial, sans-serif" font-size="47.6" font-weight="normal" text-anchor="middle" fill="#000" transform="translate(634.6 2353.7) scale(1.060 1)" stroke="#000" stroke-width="2.3" stroke-linejoin="round">6</text>
<text x="0" y="0" font-family="'Liberation Sans', Arial, sans-serif" font-size="47.6" font-weight="normal" text-anchor="middle" fill="#000" transform="translate(803.2 2353.7) scale(1.060 1)" stroke="#000" stroke-width="2.3" stroke-linejoin="round">8</text>
<text x="0" y="0" font-family="'Liberation Sans', Arial, sans-serif" font-size="47.6" font-weight="normal" text-anchor="middle" fill="#000" transform="translate(971.8 2353.7) scale(1.060 1)" stroke="#000" stroke-width="2.3" stroke-linejoin="round">10</text>
<text x="0" y="0" font-family="'Liberation Sans', Arial, sans-serif" font-size="47.6" font-weight="normal" text-anchor="middle" fill="#000" transform="translate(1140.4 2353.7) scale(1.060 1)" stroke="#000" stroke-width="2.3" stroke-linejoin="round">12</text>
<text x="0" y="0" font-family="'Liberation Sans', Arial, sans-serif" font-size="47.6" font-weight="normal" text-anchor="middle" fill="#000" transform="translate(1309 2353.7) scale(1.060 1)" stroke="#000" stroke-width="2.3" stroke-linejoin="round">14</text>
<text x="0" y="0" font-family="'Liberation Sans', Arial, sans-serif" font-size="47.6" font-weight="normal" text-anchor="middle" fill="#000" transform="translate(1477.7 2353.7) scale(1.060 1)" stroke="#000" stroke-width="2.3" stroke-linejoin="round">16</text>
<text x="0" y="0" font-family="'Liberation Sans', Arial, sans-serif" font-size="47.6" font-weight="normal" text-anchor="middle" fill="#000" transform="translate(1646.3 2353.7) scale(1.060 1)" stroke="#000" stroke-width="2.3" stroke-linejoin="round">18</text>
<text x="0" y="0" font-family="'Liberation Sans', Arial, sans-serif" font-size="47.6" font-weight="normal" text-anchor="middle" fill="#000" transform="translate(1814.9 2353.7) scale(1.060 1)" stroke="#000" stroke-width="2.3" stroke-linejoin="round">20</text>
<text x="0" y="0" font-family="'Liberation Sans', Arial, sans-serif" font-size="47.6" font-weight="normal" text-anchor="middle" fill="#000" transform="translate(1983.5 2353.7) scale(1.060 1)" stroke="#000" stroke-width="2.3" stroke-linejoin="round">22</text>
<text x="0" y="0" font-family="'Liberation Sans', Arial, sans-serif" font-size="44.4" font-weight="normal" text-anchor="middle" fill="#000" transform="translate(1132.1 2411.4) scale(1.070 1)" stroke="#000" stroke-width="2.3" stroke-linejoin="round">Energy [keV]</text>
<text x="0" y="0" font-family="'Liberation Sans', Arial, sans-serif" font-size="44.4" font-weight="normal" text-anchor="start" fill="#000" transform="translate(137.5 1296.3) scale(1.100 1)" stroke="#000" stroke-width="2.3" stroke-linejoin="round">cps/eV</text>
<text x="0" y="0" font-family="'Liberation Serif', 'Times New Roman', serif" font-size="108" font-weight="normal" text-anchor="start" fill="#000" transform="translate(148.5 1431.1) scale(1.030 1)" stroke="#000" stroke-width="1.1" stroke-linejoin="round">(b)</text>
</g>
<g id="panel-c">
<clipPath id="clip-c"><rect x="114.4" y="2576.6" width="2028.6" height="993.4"/></clipPath>
<g clip-path="url(#clip-c)">
<linearGradient id="zg-c" gradientUnits="userSpaceOnUse" x1="0" y1="2738.3" x2="0" y2="2794.5"><stop offset="0" stop-color="#5e3e3e" stop-opacity="0"/><stop offset="1" stop-color="#5e3e3e" stop-opacity="1"/></linearGradient>
<linearGradient id="zp-c" gradientUnits="userSpaceOnUse" x1="0" y1="2738.3" x2="0" y2="2794.5"><stop offset="0" stop-color="#f4eaea" stop-opacity="0"/><stop offset="1" stop-color="#f4eaea" stop-opacity="1"/></linearGradient>
<rect x="118.4" y="2580.2" width="2.4" height="982.2" fill="url(#zp-c)"/>
<rect x="117.9" y="3172.3" width="2.2" height="393.7" fill="#f3e9e9"/>
<rect x="120.1" y="3172.3" width="2.9" height="393.7" fill="#fff2f9"/>
<rect x="123" y="3172.3" width="2.1" height="393.7" fill="#f092c2"/>
<rect x="125.1" y="3172.3" width="3.2" height="393.7" fill="#8240b8"/>
<rect x="128.3" y="3172.3" width="1.7" height="393.7" fill="#6452d2"/>
<rect x="130" y="3172.3" width="2.8" height="393.7" fill="#a2caff"/>
<rect x="132.8" y="3172.3" width="2.5" height="393.7" fill="#aafff2"/>
<rect x="135.3" y="3172.3" width="4.5" height="393.7" fill="#90ffc8"/>
<rect x="139.8" y="3172.3" width="2.4" height="393.7" fill="#d2ffea"/>
<rect x="142.2" y="3172.3" width="2.7" height="393.7" fill="#e2ffa2"/>
<rect x="144.9" y="3172.3" width="4.7" height="393.7" fill="#d0ff6e"/>
<rect x="149.6" y="3172.3" width="2.5" height="393.7" fill="#f2ffd2"/>
<rect x="152.1" y="3172.3" width="2" height="393.7" fill="#f9e2ff"/>
<rect x="154.1" y="3172.3" width="4.9" height="393.7" fill="#bc72ff"/>
<rect x="159" y="3172.3" width="2.9" height="393.7" fill="#e2c2ff"/>
<rect x="123" y="3368.1" width="2.1" height="197.9" fill="#e878b0"/>
<rect x="125.1" y="3368.1" width="3.2" height="197.9" fill="#8020a0"/>
<rect x="128.3" y="3368.1" width="1.7" height="197.9" fill="#7030c0"/>
<rect x="1597.6" y="3172.3" width="3.4" height="393.7" fill="#74b4ff"/>
<rect x="1601" y="3172.3" width="3.4" height="393.7" fill="#c0dcff"/>
<rect x="1587.8" y="3358.6" width="3.6" height="207.4" fill="#74b4ff"/>
<rect x="1591.4" y="3358.6" width="3" height="207.4" fill="#c0dcff"/>
<rect x="1778.2" y="3503" width="6.8" height="63" fill="#74b4ff"/>
<rect x="1778.2" y="3531.3" width="5.3" height="34.7" fill="#2c8cff"/>
<rect x="1808.4" y="3551.3" width="7" height="14.7" fill="#74b4ff"/>
<rect x="303.4" y="3172.3" width="2.3" height="393.7" fill="#ece8fa"/>
<rect x="305.7" y="3172.3" width="4.5" height="393.7" fill="#8e7ed2"/>
<rect x="310.2" y="3172.3" width="2.8" height="393.7" fill="#cac2f2"/>
<rect x="312.6" y="3399.4" width="2.1" height="166.6" fill="#a2d2ff"/>
<rect x="314.7" y="3399.4" width="4.5" height="166.6" fill="#52aaff"/>
<rect x="319.2" y="3399.4" width="2.4" height="166.6" fill="#b2e2ff"/>
<path d="M118 3566 L118 3560.4 L135 3561.2 L160 3561.8 L200 3561 L250 3560.2 L270 3559.2 L284 3560.6 L284 3566 Z" fill="#b00000"/>
<path d="M330 3566 L330 3562.2 L420 3562.8 L640 3564.2 L640 3566 Z" fill="#7a0000"/>
<clipPath id="pk-c"><path d="M285 3566 L286.4 3560.6 L288.4 3540 L290.4 3522.5 L292.6 3520.6 L298.2 3521.2 L299.6 3525.4 L303.4 3525.6 L304.6 3505 L305.8 3475 L307 3440 L308 3422.4 L314.6 3421.8 L315.4 3436 L317.4 3462 L318.2 3503 L318.8 3521 L319.4 3524.6 L322 3525.8 L323.8 3539.6 L327 3552 L330.2 3562.6 L331 3566 Z"/></clipPath>
<path d="M285 3566 L286.4 3560.6 L288.4 3540 L290.4 3522.5 L292.6 3520.6 L298.2 3521.2 L299.6 3525.4 L303.4 3525.6 L304.6 3505 L305.8 3475 L307 3440 L308 3422.4 L314.6 3421.8 L315.4 3436 L317.4 3462 L318.2 3503 L318.8 3521 L319.4 3524.6 L322 3525.8 L323.8 3539.6 L327 3552 L330.2 3562.6 L331 3566 Z" fill="#c80000"/>
<g clip-path="url(#pk-c)">
<rect x="305.6" y="3415" width="4.6" height="106" fill="#a6225e"/>
<rect x="310.2" y="3415" width="4.6" height="106" fill="#b00030"/>
<rect x="314.6" y="3415" width="3.8" height="109" fill="#5a3a9a"/>
<rect x="305.6" y="3521" width="4.6" height="45" fill="#62206e"/>
<rect x="310.2" y="3521" width="5.8" height="45" fill="#900000"/>
<rect x="316" y="3521" width="5.6" height="45" fill="#520050"/>
<rect x="323.4" y="3538" width="4.2" height="14" fill="#ff4090"/>
<rect x="322" y="3552" width="5.6" height="14" fill="#0024c4"/>
</g>
<rect x="281.2" y="3550.4" width="4.6" height="15.6" fill="#66ccff" opacity="0.85"/>
<path d="M155.5 3566 L157.6 3551 L159.8 3551 L162 3566 Z" fill="#c8005a"/>
<path d="M127 3566 L129 3553 L131.5 3554 L134 3566 Z" fill="#6a1a8a"/>
<path d="M928 3564.4 Q941 3559.2 954 3564.4 Z" fill="#c80000"/>
<rect x="103.7" y="2876" width="66.6" height="51.4" fill="#0066ff"/>
<text x="0" y="0" font-family="'DejaVu Sans', 'Liberation Sans', sans-serif" font-size="34" font-weight="normal" text-anchor="middle" fill="#002d78" transform="translate(134.6 2912.8) scale(1.200 1)" stroke="#002d78" stroke-width="1.2" stroke-linejoin="round">Mo</text>
<rect x="121.7" y="2935" width="50.7" height="51.4" fill="#66ff00"/>
<text x="0" y="0" font-family="'DejaVu Sans', 'Liberation Sans', sans-serif" font-size="34" font-weight="normal" text-anchor="middle" fill="#226b00" transform="translate(150.4 2971.8) scale(1.080 1)" stroke="#226b00" stroke-width="1.2" stroke-linejoin="round">N</text>
<rect x="103.7" y="2993.7" width="44.1" height="51.4" fill="#ff0066"/>
<text x="0" y="0" font-family="'DejaVu Sans', 'Liberation Sans', sans-serif" font-size="34" font-weight="normal" text-anchor="middle" fill="#780031" transform="translate(130.5 3030.5) scale(1.080 1)" stroke="#780031" stroke-width="1.2" stroke-linejoin="round">S</text>
<rect x="130.9" y="3054" width="52.7" height="51.4" fill="#6600ff"/>
<text x="0" y="0" font-family="'DejaVu Sans', 'Liberation Sans', sans-serif" font-size="34" font-weight="normal" text-anchor="middle" fill="#c090ff" transform="translate(162 3090.8) scale(1.080 1)" stroke="#c090ff" stroke-width="1.2" stroke-linejoin="round">O</text>
<rect x="266.9" y="3054" width="82.5" height="51.4" fill="#0066ff"/>
<text x="0" y="0" font-family="'DejaVu Sans', 'Liberation Sans', sans-serif" font-size="34" font-weight="normal" text-anchor="middle" fill="#002d78" transform="translate(312.6 3090.8) scale(1.200 1)" stroke="#002d78" stroke-width="1.2" stroke-linejoin="round">Mo</text>
<rect x="111.7" y="3112.8" width="50.5" height="51.4" fill="#00ff66"/>
<text x="0" y="0" font-family="'DejaVu Sans', 'Liberation Sans', sans-serif" font-size="34" font-weight="normal" text-anchor="middle" fill="#006b2d" transform="translate(141.5 3149.6) scale(1.080 1)" stroke="#006b2d" stroke-width="1.2" stroke-linejoin="round">C</text>
<rect x="287.4" y="3112.8" width="43.6" height="51.4" fill="#ff0066"/>
<text x="0" y="0" font-family="'DejaVu Sans', 'Liberation Sans', sans-serif" font-size="34" font-weight="normal" text-anchor="middle" fill="#780031" transform="translate(313 3149.6) scale(1.080 1)" stroke="#780031" stroke-width="1.2" stroke-linejoin="round">S</text>
<rect x="1559.9" y="3112.2" width="81.6" height="51.4" fill="#0066ff"/>
<text x="0" y="0" font-family="'DejaVu Sans', 'Liberation Sans', sans-serif" font-size="34" font-weight="normal" text-anchor="middle" fill="#002d78" transform="translate(1604.1 3149) scale(1.200 1)" stroke="#002d78" stroke-width="1.2" stroke-linejoin="round">Mo</text>
</g>
<rect x="114.4" y="2576.6" width="2028.6" height="989.4" fill="none" stroke="#000" stroke-width="7.2" stroke-linejoin="round"/>
<rect x="115.6" y="2580.2" width="2.8" height="982.2" fill="url(#zg-c)"/>
<path d="M96.6 3567H114.4M96.6 3538.9H114.4M96.6 3510.8H114.4M96.6 3482.7H114.4M96.6 3454.6H114.4M96.6 3426.6H114.4M96.6 3398.5H114.4M96.6 3370.4H114.4M96.6 3342.3H114.4M96.6 3314.2H114.4M96.6 3286.1H114.4M96.6 3258H114.4M96.6 3229.9H114.4M96.6 3201.8H114.4M96.6 3173.7H114.4M96.6 3145.7H114.4M96.6 3117.6H114.4M96.6 3089.5H114.4M96.6 3061.4H114.4M96.6 3033.3H114.4M96.6 3005.2H114.4M96.6 2977.1H114.4M96.6 2949H114.4M96.6 2920.9H114.4M96.6 2892.8H114.4M96.6 2864.8H114.4M96.6 2836.7H114.4M96.6 2808.6H114.4M96.6 2780.5H114.4M96.6 2752.4H114.4M96.6 2724.3H114.4M96.6 2696.2H114.4M96.6 2668.1H114.4M96.6 2640H114.4M96.6 2611.9H114.4M96.6 2583.8H114.4" stroke="#000" stroke-opacity="0.3" stroke-width="7.6" fill="none"/>
<path d="M96.6 3567H114.4M96.6 3538.9H114.4M96.6 3510.8H114.4M96.6 3482.7H114.4M96.6 3454.6H114.4M96.6 3426.6H114.4M96.6 3398.5H114.4M96.6 3370.4H114.4M96.6 3342.3H114.4M96.6 3314.2H114.4M96.6 3286.1H114.4M96.6 3258H114.4M96.6 3229.9H114.4M96.6 3201.8H114.4M96.6 3173.7H114.4M96.6 3145.7H114.4M96.6 3117.6H114.4M96.6 3089.5H114.4M96.6 3061.4H114.4M96.6 3033.3H114.4M96.6 3005.2H114.4M96.6 2977.1H114.4M96.6 2949H114.4M96.6 2920.9H114.4M96.6 2892.8H114.4M96.6 2864.8H114.4M96.6 2836.7H114.4M96.6 2808.6H114.4M96.6 2780.5H114.4M96.6 2752.4H114.4M96.6 2724.3H114.4M96.6 2696.2H114.4M96.6 2668.1H114.4M96.6 2640H114.4M96.6 2611.9H114.4M96.6 2583.8H114.4" stroke="#1c1c1c" stroke-width="4.4" fill="none"/>
<path d="M156.7 3566V3581M199.2 3566V3581M241.8 3566V3581M326.8 3566V3581M369.3 3566V3581M411.8 3566V3581M496.9 3566V3581M539.4 3566V3581M581.9 3566V3581M667 3566V3581M709.5 3566V3581M752 3566V3581M837 3566V3581M879.6 3566V3581M922.1 3566V3581M1007.1 3566V3581M1049.6 3566V3581M1092.2 3566V3581M1177.2 3566V3581M1219.7 3566V3581M1262.2 3566V3581M1347.3 3566V3581M1389.8 3566V3581M1432.3 3566V3581M1517.4 3566V3581M1559.9 3566V3581M1602.4 3566V3581M1687.4 3566V3581M1730 3566V3581M1772.5 3566V3581M1857.5 3566V3581M1900 3566V3581M1942.6 3566V3581M2027.6 3566V3581M2070.1 3566V3581M2112.6 3566V3581" stroke="#111" stroke-width="5.6" fill="none"/>
<path d="M114.4 3566V3590M284.3 3566V3590M454.4 3566V3590M624.4 3566V3590M794.5 3566V3590M964.6 3566V3590M1134.7 3566V3590M1304.8 3566V3590M1474.8 3566V3590M1644.9 3566V3590M1815 3566V3590M1985.1 3566V3590" stroke="#000" stroke-width="6.8" fill="none"/>
<text x="0" y="0" font-family="'Liberation Sans', Arial, sans-serif" font-size="47.6" font-weight="normal" text-anchor="end" fill="#000" transform="translate(86.4 3586.6) scale(1.040 1)" stroke="#000" stroke-width="2.3" stroke-linejoin="round">0</text>
<text x="0" y="0" font-family="'Liberation Sans', Arial, sans-serif" font-size="47.6" font-weight="normal" text-anchor="end" fill="#000" transform="translate(86.4 3445.9) scale(1.040 1)" stroke="#000" stroke-width="2.3" stroke-linejoin="round">5</text>
<text x="0" y="0" font-family="'Liberation Sans', Arial, sans-serif" font-size="47.6" font-weight="normal" text-anchor="end" fill="#000" transform="translate(86.4 3305.1) scale(1.040 1)" stroke="#000" stroke-width="2.3" stroke-linejoin="round">10</text>
<text x="0" y="0" font-family="'Liberation Sans', Arial, sans-serif" font-size="47.6" font-weight="normal" text-anchor="end" fill="#000" transform="translate(86.4 3164.4) scale(1.040 1)" stroke="#000" stroke-width="2.3" stroke-linejoin="round">15</text>
<text x="0" y="0" font-family="'Liberation Sans', Arial, sans-serif" font-size="47.6" font-weight="normal" text-anchor="end" fill="#000" transform="translate(86.4 3023.6) scale(1.040 1)" stroke="#000" stroke-width="2.3" stroke-linejoin="round">20</text>
<text x="0" y="0" font-family="'Liberation Sans', Arial, sans-serif" font-size="47.6" font-weight="normal" text-anchor="end" fill="#000" transform="translate(86.4 2882.9) scale(1.040 1)" stroke="#000" stroke-width="2.3" stroke-linejoin="round">25</text>
<text x="0" y="0" font-family="'Liberation Sans', Arial, sans-serif" font-size="47.6" font-weight="normal" text-anchor="end" fill="#000" transform="translate(86.4 2742.1) scale(1.040 1)" stroke="#000" stroke-width="2.3" stroke-linejoin="round">30</text>
<text x="0" y="0" font-family="'Liberation Sans', Arial, sans-serif" font-size="47.6" font-weight="normal" text-anchor="end" fill="#000" transform="translate(86.4 2601.4) scale(1.040 1)" stroke="#000" stroke-width="2.3" stroke-linejoin="round">35</text>
<text x="0" y="0" font-family="'Liberation Sans', Arial, sans-serif" font-size="47.6" font-weight="normal" text-anchor="middle" fill="#000" transform="translate(113.8 3635.5) scale(1.060 1)" stroke="#000" stroke-width="2.3" stroke-linejoin="round">0</text>
<text x="0" y="0" font-family="'Liberation Sans', Arial, sans-serif" font-size="47.6" font-weight="normal" text-anchor="middle" fill="#000" transform="translate(284.5 3635.5) scale(1.060 1)" stroke="#000" stroke-width="2.3" stroke-linejoin="round">2</text>
<text x="0" y="0" font-family="'Liberation Sans', Arial, sans-serif" font-size="47.6" font-weight="normal" text-anchor="middle" fill="#000" transform="translate(454.6 3635.5) scale(1.060 1)" stroke="#000" stroke-width="2.3" stroke-linejoin="round">4</text>
<text x="0" y="0" font-family="'Liberation Sans', Arial, sans-serif" font-size="47.6" font-weight="normal" text-anchor="middle" fill="#000" transform="translate(624.6 3635.5) scale(1.060 1)" stroke="#000" stroke-width="2.3" stroke-linejoin="round">6</text>
<text x="0" y="0" font-family="'Liberation Sans', Arial, sans-serif" font-size="47.6" font-weight="normal" text-anchor="middle" fill="#000" transform="translate(794.7 3635.5) scale(1.060 1)" stroke="#000" stroke-width="2.3" stroke-linejoin="round">8</text>
<text x="0" y="0" font-family="'Liberation Sans', Arial, sans-serif" font-size="47.6" font-weight="normal" text-anchor="middle" fill="#000" transform="translate(964.8 3635.5) scale(1.060 1)" stroke="#000" stroke-width="2.3" stroke-linejoin="round">10</text>
<text x="0" y="0" font-family="'Liberation Sans', Arial, sans-serif" font-size="47.6" font-weight="normal" text-anchor="middle" fill="#000" transform="translate(1134.9 3635.5) scale(1.060 1)" stroke="#000" stroke-width="2.3" stroke-linejoin="round">12</text>
<text x="0" y="0" font-family="'Liberation Sans', Arial, sans-serif" font-size="47.6" font-weight="normal" text-anchor="middle" fill="#000" transform="translate(1305 3635.5) scale(1.060 1)" stroke="#000" stroke-width="2.3" stroke-linejoin="round">14</text>
<text x="0" y="0" font-family="'Liberation Sans', Arial, sans-serif" font-size="47.6" font-weight="normal" text-anchor="middle" fill="#000" transform="translate(1475 3635.5) scale(1.060 1)" stroke="#000" stroke-width="2.3" stroke-linejoin="round">16</text>
<text x="0" y="0" font-family="'Liberation Sans', Arial, sans-serif" font-size="47.6" font-weight="normal" text-anchor="middle" fill="#000" transform="translate(1645.1 3635.5) scale(1.060 1)" stroke="#000" stroke-width="2.3" stroke-linejoin="round">18</text>
<text x="0" y="0" font-family="'Liberation Sans', Arial, sans-serif" font-size="47.6" font-weight="normal" text-anchor="middle" fill="#000" transform="translate(1815.2 3635.5) scale(1.060 1)" stroke="#000" stroke-width="2.3" stroke-linejoin="round">20</text>
<text x="0" y="0" font-family="'Liberation Sans', Arial, sans-serif" font-size="47.6" font-weight="normal" text-anchor="middle" fill="#000" transform="translate(1985.3 3635.5) scale(1.060 1)" stroke="#000" stroke-width="2.3" stroke-linejoin="round">22</text>
<text x="0" y="0" font-family="'Liberation Sans', Arial, sans-serif" font-size="44.4" font-weight="normal" text-anchor="middle" fill="#000" transform="translate(1126.1 3694) scale(1.070 1)" stroke="#000" stroke-width="2.3" stroke-linejoin="round">Energy [keV]</text>
<text x="0" y="0" font-family="'Liberation Sans', Arial, sans-serif" font-size="44.4" font-weight="normal" text-anchor="start" fill="#000" transform="translate(122.8 2560.9) scale(1.100 1)" stroke="#000" stroke-width="2.3" stroke-linejoin="round">cps/eV</text>
<text x="0" y="0" font-family="'Liberation Serif', 'Times New Roman', serif" font-size="108" font-weight="normal" text-anchor="start" fill="#000" transform="translate(141.9 2675.5) scale(1.030 1)" stroke="#000" stroke-width="1.1" stroke-linejoin="round">(c)</text>
</g>
</g>
</svg>
</body></html>
